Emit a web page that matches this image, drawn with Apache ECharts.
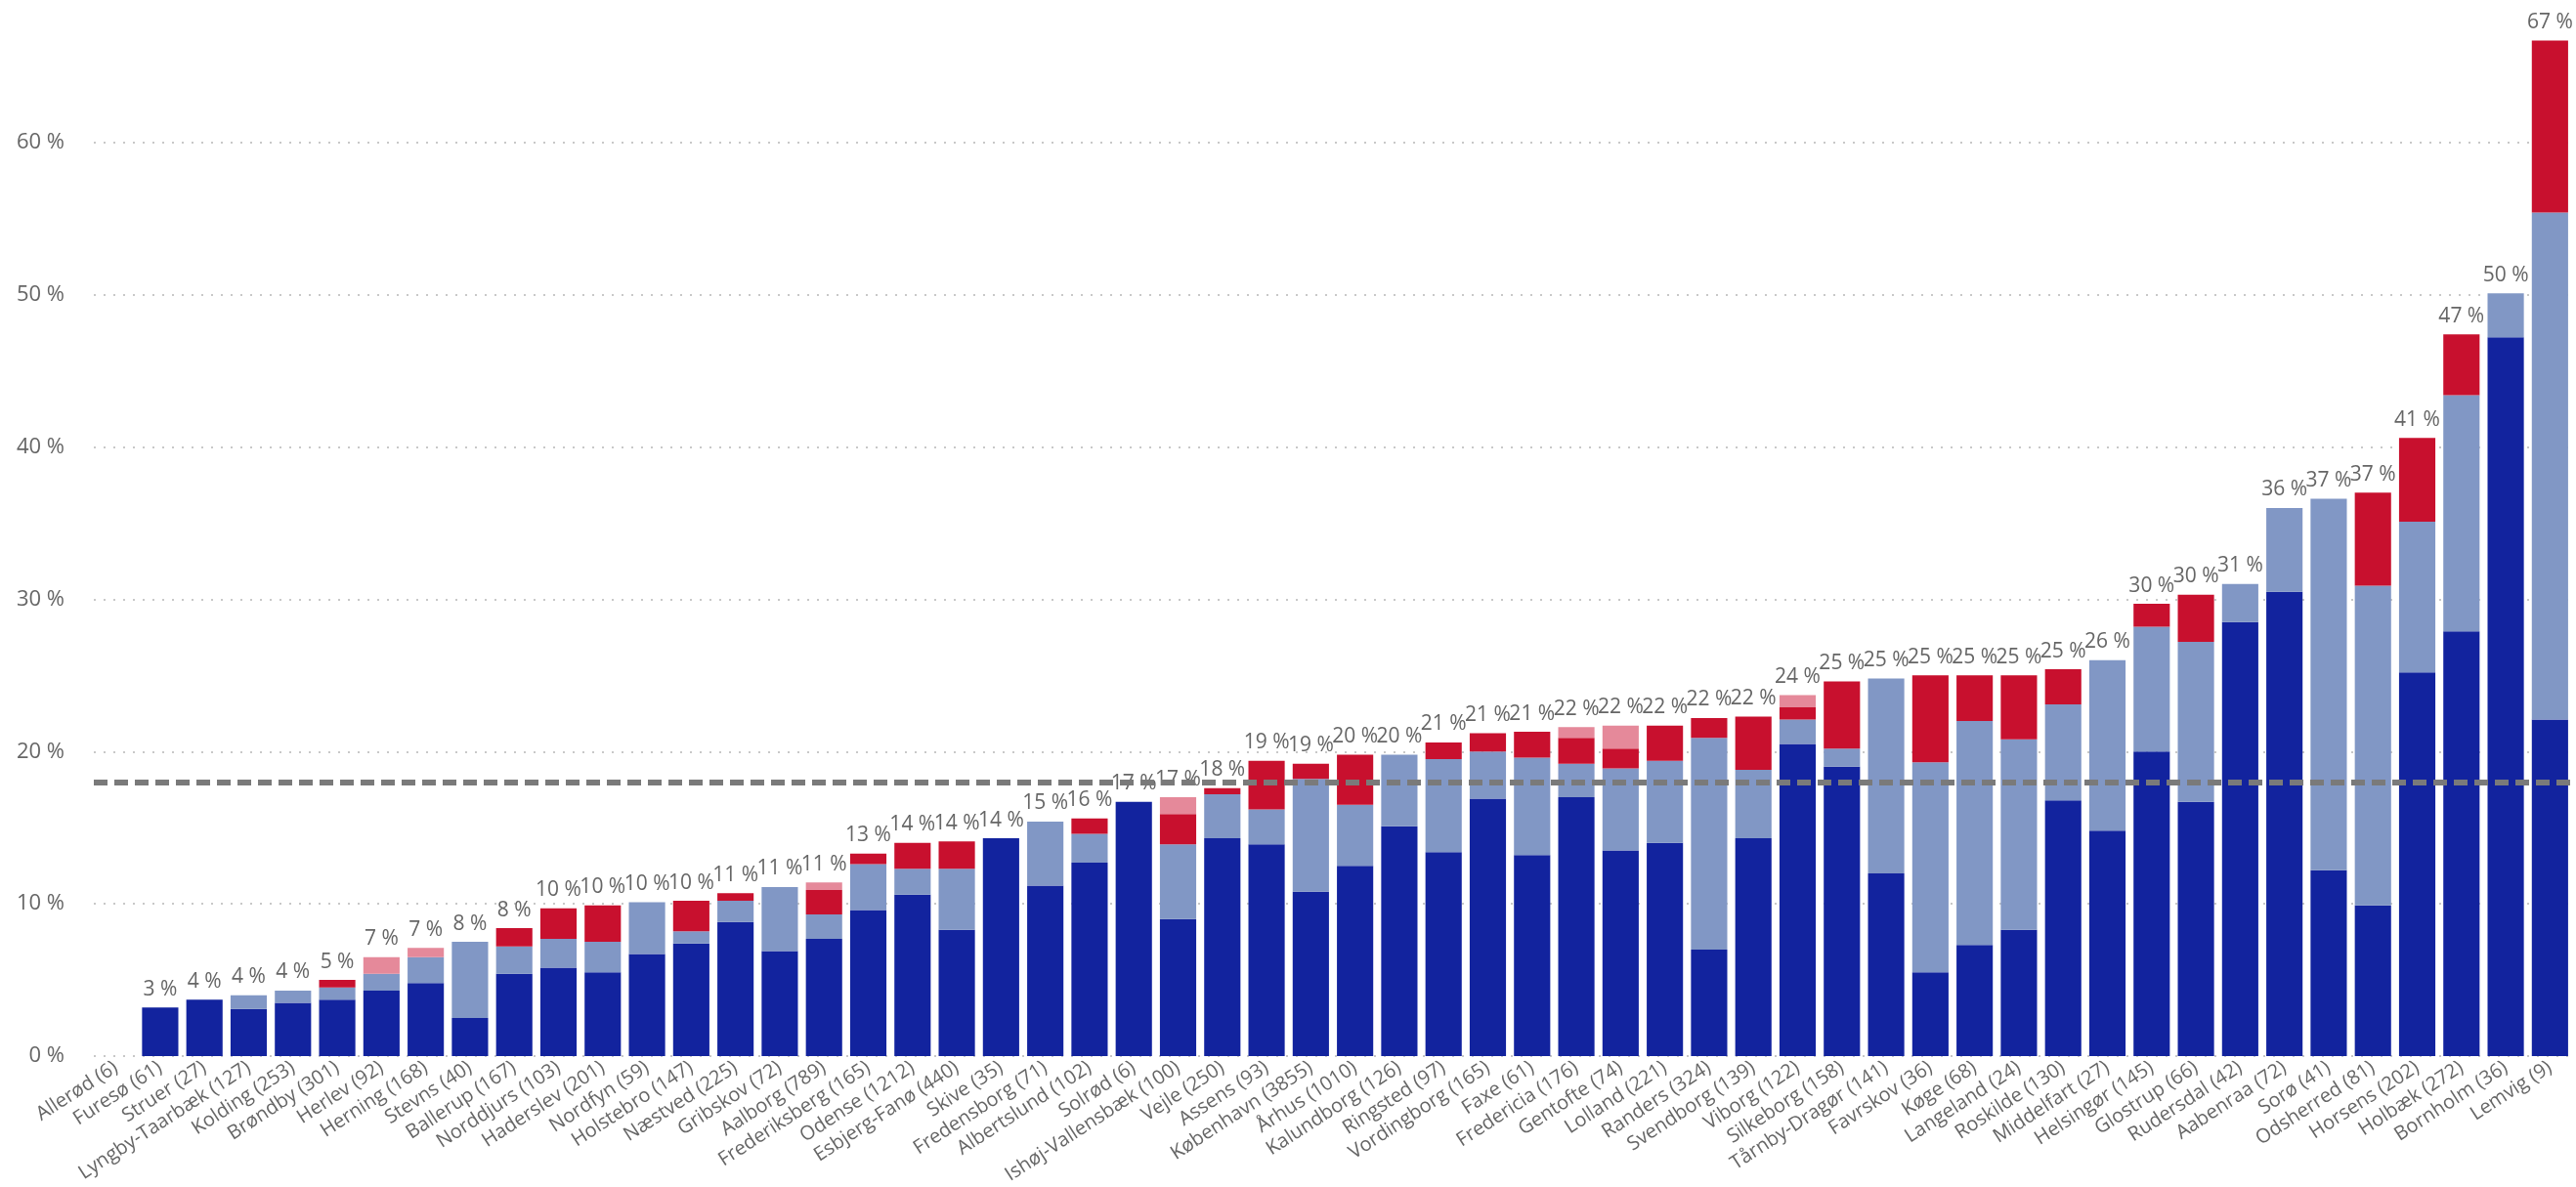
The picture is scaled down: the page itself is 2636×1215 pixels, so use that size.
<!DOCTYPE html>
<html>
<head>
<meta charset="utf-8">
<script src="https://cdn.jsdelivr.net/npm/echarts@6/dist/echarts.min.js"></script>
<style>html,body{margin:0;padding:0;background:#fff}#main{width:2636px;height:1215px}</style>
</head>
<body>
<div id="main"></div>
<script>
var categories = ['Allerød (6)', 'Furesø (61)', 'Struer (27)', 'Lyngby-Taarbæk (127)', 'Kolding (253)', 'Brøndby (301)', 'Herlev (92)', 'Herning (168)', 'Stevns (40)', 'Ballerup (167)', 'Norddjurs (103)', 'Haderslev (201)', 'Nordfyn (59)', 'Holstebro (147)', 'Næstved (225)', 'Gribskov (72)', 'Aalborg (789)', 'Frederiksberg (165)', 'Odense (1212)', 'Esbjerg-Fanø (440)', 'Skive (35)', 'Fredensborg (71)', 'Albertslund (102)', 'Solrød (6)', 'Ishøj-Vallensbæk (100)', 'Vejle (250)', 'Assens (93)', 'København (3855)', 'Århus (1010)', 'Kalundborg (126)', 'Ringsted (97)', 'Vordingborg (165)', 'Faxe (61)', 'Fredericia (176)', 'Gentofte (74)', 'Lolland (221)', 'Randers (324)', 'Svendborg (139)', 'Viborg (122)', 'Silkeborg (158)', 'Tårnby-Dragør (141)', 'Favrskov (36)', 'Køge (68)', 'Langeland (24)', 'Roskilde (130)', 'Middelfart (27)', 'Helsingør (145)', 'Glostrup (66)', 'Rudersdal (42)', 'Aabenraa (72)', 'Sorø (41)', 'Odsherred (81)', 'Horsens (202)', 'Holbæk (272)', 'Bornholm (36)', 'Lemvig (9)'];
var darkVals = [0, 3.2, 3.7, 3.1, 3.5, 3.7, 4.3, 4.8, 2.5, 5.4, 5.8, 5.5, 6.7, 7.4, 8.8, 6.9, 7.7, 9.6, 10.6, 8.3, 14.3, 11.2, 12.7, 16.7, 9.0, 14.3, 13.9, 10.8, 12.5, 15.1, 13.4, 16.9, 13.2, 17.0, 13.5, 14.0, 7.0, 14.3, 20.5, 19.0, 12.0, 5.5, 7.3, 8.3, 16.8, 14.8, 20.0, 16.7, 28.5, 30.5, 12.2, 9.9, 25.2, 27.9, 47.2, 22.1];
var lightVals = [0, 0, 0, 0.9, 0.8, 0.8, 1.1, 1.7, 5.0, 1.8, 1.9, 2.0, 3.4, 0.8, 1.4, 4.2, 1.6, 3.0, 1.7, 4.0, 0, 4.2, 1.9, 0, 4.9, 2.9, 2.3, 7.4, 4.0, 4.7, 6.1, 3.1, 6.4, 2.2, 5.4, 5.4, 13.9, 4.5, 1.6, 1.2, 12.8, 13.8, 14.7, 12.5, 6.3, 11.2, 8.2, 10.5, 2.5, 5.5, 24.4, 21.0, 9.9, 15.5, 2.9, 33.3];
var redVals = [0, 0, 0, 0, 0, 0.5, 0, 0, 0, 1.2, 2.0, 2.4, 0, 2.0, 0.5, 0, 1.6, 0.7, 1.7, 1.8, 0, 0, 1.0, 0, 2.0, 0.4, 3.2, 1.0, 3.3, 0, 1.1, 1.2, 1.7, 1.7, 1.3, 2.3, 1.3, 3.5, 0.8, 4.4, 0, 5.7, 3.0, 4.2, 2.3, 0, 1.5, 3.1, 0, 0, 0, 6.1, 5.5, 4.0, 0, 11.3];
var pinkVals = [0, 0, 0, 0, 0, 0, 1.1, 0.6, 0, 0, 0, 0, 0, 0, 0, 0, 0.5, 0, 0, 0, 0, 0, 0, 0, 1.1, 0, 0, 0, 0, 0, 0, 0, 0, 0.7, 1.5, 0, 0, 0, 0.8, 0, 0, 0, 0, 0, 0, 0, 0, 0, 0, 0, 0, 0, 0, 0, 0, 0];
var referenceLine = 18;

var totals = [];
for (var i = 0; i < categories.length; i++) {
    totals.push(+(darkVals[i] + lightVals[i] + redVals[i] + pinkVals[i]).toFixed(1));
}

function seg(name, data, color) {
    return {
        name: name, type: 'bar', stack: 'a', data: data,
        barCategoryGap: '18%',
        itemStyle: {color: color},
        emphasis: {disabled: true}
    };
}

var series = [
    seg('dark', darkVals, '#12239E'),
    seg('light', lightVals, '#8197C5'),
    seg('red', redVals, '#C8102E'),
    seg('pink', pinkVals, '#E5899A')
];
series[0].markLine = {
    silent: true, symbol: 'none', label: {show: false},
    lineStyle: {color: '#7a7a7a', type: [14, 7], width: 6},
    data: [{yAxis: referenceLine}]
};
// usynlig serie til total-labels
series.push({
    name: 'total', type: 'bar', data: totals, barGap: '-100%', z: 0,
    itemStyle: {color: 'rgba(0,0,0,0)'},
    label: {
        show: true, position: 'top', distance: 8,
        color: '#666', fontSize: 21, fontFamily: 'Open Sans',
        formatter: function (p) { return p.value > 0 ? Math.round(p.value) + ' %' : ''; }
    }
});

var chart = echarts.init(document.getElementById('main'));
chart.setOption({
    animation: false,
    grid: {left: 96, right: 4, top: -10, bottom: 134, outerBoundsMode: 'none', containLabel: false},
    xAxis: {
        type: 'category', data: categories,
        axisLine: {show: false}, axisTick: {show: false},
        axisLabel: {interval: 0, rotate: 33, color: '#666', fontSize: 20, fontFamily: 'Open Sans', margin: 10}
    },
    yAxis: {
        type: 'value', min: 0, max: 70, interval: 10,
        axisLabel: {
            color: '#666', fontSize: 22, fontFamily: 'Open Sans', margin: 30,
            formatter: function (v) { return v < 70 ? v + ' %' : ''; }
        },
        splitLine: {lineStyle: {color: '#c8c8c8', type: [2, 8], width: 2}}
    },
    series: series
});
</script>
</body>
</html>
